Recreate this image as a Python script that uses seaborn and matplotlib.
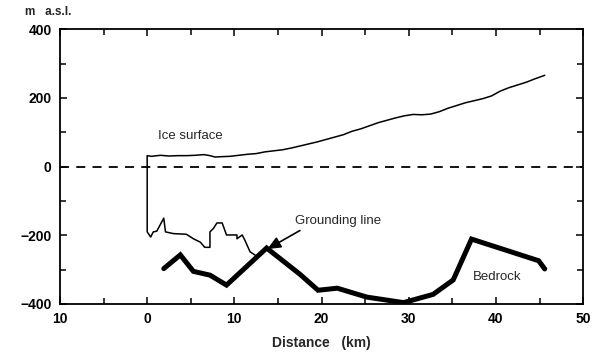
import matplotlib
matplotlib.use("Agg")
import matplotlib.pyplot as plt
import seaborn as sns
import numpy as np
import pandas as pd

# Ice profile: floating base (from grounding line back to front), ice front, then surface
ice_km = [12.4, 11.8, 11.2, 10.9, 10.3, 10.3, 9.1, 8.9, 8.6, 8.0, 7.6, 7.2, 7.2, 6.6, 6.1,
          5.3, 4.5, 3.0, 2.1, 1.9, 1.1, 0.7, 0.4, 0.0,
          0.0, 0.5, 1.5, 2.5, 3.5, 4.5, 5.5, 6.5, 7.2, 7.8, 8.5, 9.5, 10.5, 11.5, 12.5,
          13.5, 14.5, 15.5, 16.5, 17.5, 18.5, 19.5, 20.5, 21.5, 22.5, 23.5, 24.5, 25.5,
          26.5, 27.5, 28.5, 29.5, 30.5, 31.5, 32.5, 33.5, 34.5, 35.5, 36.5, 37.5, 38.5,
          39.5, 40.5, 41.5, 42.5, 43.5, 44.5, 45.6]
ice_m = [-258, -248, -214, -199, -210, -199, -199, -185, -164, -164, -180, -190, -235, -235, -220,
         -210, -197, -195, -190, -150, -188, -190, -205, -190,
         32, 30, 33, 31, 32, 32, 33, 35, 32, 28, 29, 30, 33, 36, 38,
         43, 46, 49, 54, 60, 66, 72, 79, 86, 93, 103, 110, 119,
         128, 135, 142, 148, 152, 151, 153, 160, 170, 178, 186, 192, 198,
         206, 220, 230, 238, 246, 256, 266]

bed_km = [1.9, 3.8, 5.3, 7.2, 9.1, 13.7, 17.5, 19.6, 21.8, 25.2, 29.4, 32.8, 35.1, 37.2, 44.9, 45.6]
bed_m = [-297, -257, -305, -316, -345, -237, -313, -360, -354, -380, -396, -372, -330, -211, -274, -298]

sea_km = [-10, 50]
sea_m = [0, 0]

xtick_vals = [-10, 0, 10, 20, 30, 40, 50]
xtick_labels = ["10", "0", "10", "20", "30", "40", "50"]
ytick_vals = [-400, -200, 0, 200, 400]
ytick_labels = ["\u2212400", "\u2212200", "0", "200", "400"]

sns.set_style("ticks")
plt.rcParams['font.family'] = ['Liberation Sans', 'DejaVu Sans']

fig = plt.figure(figsize=(6.03, 3.55), dpi=100)
ax = fig.add_axes([0.0995, 0.1437, 0.8675, 0.7738])

sns.lineplot(x=sea_km, y=sea_m, ax=ax, color="black", lw=1.3, linestyle=(0, (5, 4)))
sns.lineplot(x=ice_km, y=ice_m, ax=ax, color="black", lw=1.1, sort=False, estimator=None)
sns.lineplot(x=bed_km, y=bed_m, ax=ax, color="black", lw=3.6, sort=False, estimator=None,
             solid_joinstyle="miter")

ax.set_xlim(-10, 50)
ax.set_ylim(-400, 400)
ax.set_xticks(xtick_vals)
ax.set_xticklabels(xtick_labels)
ax.set_yticks(ytick_vals)
ax.set_yticklabels(ytick_labels)
ax.set_xticks(np.arange(-5, 50, 10), minor=True)
ax.set_yticks(np.arange(-300, 400, 200), minor=True)
ax.tick_params(which="both", direction="in", top=True, right=True, width=1.1,
               labelsize=10, colors="black", pad=6)
ax.tick_params(which="major", length=5)
ax.tick_params(which="minor", length=4)
for lab in ax.get_xticklabels() + ax.get_yticklabels():
    lab.set_fontweight("bold")
for s in ax.spines.values():
    s.set_linewidth(1.3)
    s.set_color("black")

ax.set_xlabel("Distance   (km)", fontsize=10, fontweight="bold", labelpad=7)
ax.set_ylabel("")
fig.text(0.042, 0.965, "m   a.s.l.", fontsize=8.5, fontweight="bold", va="center")

ax.text(5.0, 89, "Ice surface", fontsize=9.5, ha="center", va="center")
ax.text(17.0, -157, "Grounding line", fontsize=9.5, ha="left", va="center")
ax.text(37.3, -322, "Bedrock", fontsize=9.5, ha="left", va="center")
ax.annotate("", xy=(13.5, -244), xytext=(17.8, -182),
            arrowprops=dict(arrowstyle="-|>,head_length=0.8,head_width=0.35",
                            color="black", lw=1.2))

fig.savefig("out.png", dpi=100)
